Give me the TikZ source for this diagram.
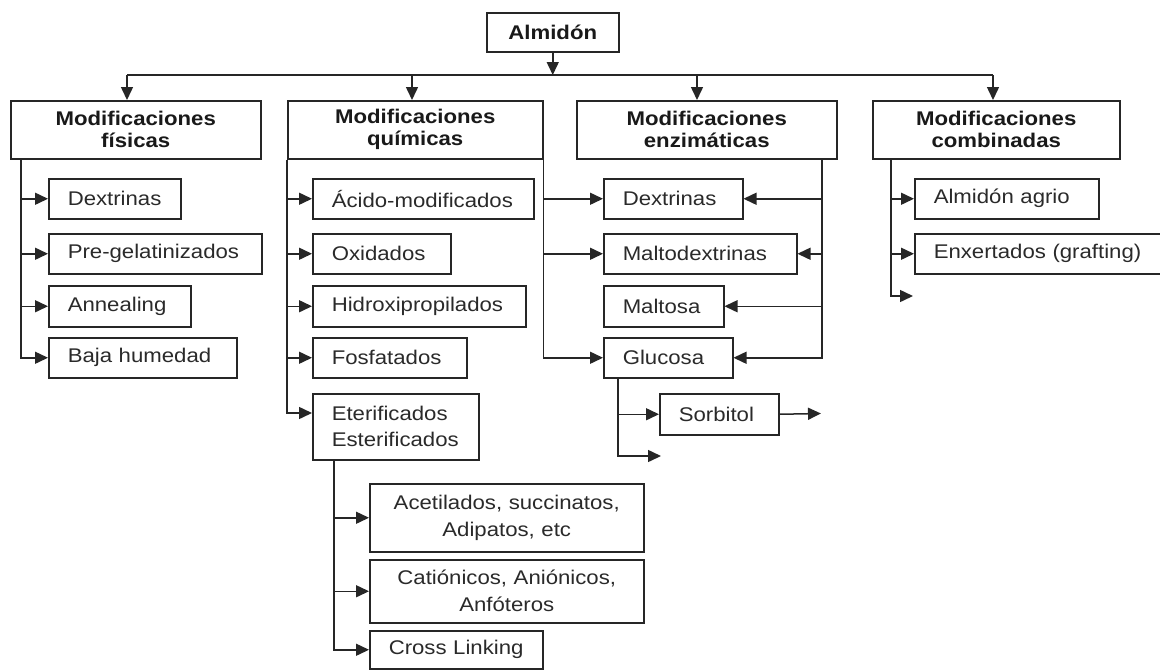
\documentclass[tikz,border=0pt]{standalone}
\usepackage{fontspec}
\setmainfont{Liberation Sans}[FakeStretch=1.12]
\usetikzlibrary{arrows.meta}
\definecolor{ln}{HTML}{262626}
\definecolor{tx}{HTML}{2A2A2A}
\begin{document}
\begin{tikzpicture}[x=1pt,y=-1pt,
  every node/.style={font=\fontsize{19.8}{22}\selectfont, text=tx},
  box/.style={draw=ln, line width=1.5pt, anchor=north west, inner sep=0pt, fill=white},
  head/.style={box, minimum height=58pt, align=center, font=\fontsize{19.8}{22}\selectfont\bfseries, text=black!90},
  leaf/.style={box, inner xsep=19pt, minimum height=40pt, text width=#1, align=left},
  twol/.style={box, inner xsep=19pt, text width=#1, align=center, font=\fontsize{19.8}{27}\selectfont},
  con/.style={draw=ln, line width=1.5pt},
  arr/.style={con, -{Triangle[length=13pt,width=12pt]}},
]
\useasboundingbox (0,0) rectangle (1160,670);
\clip (0,0) rectangle (1160,670);

% top
\node[box, minimum width=132pt, minimum height=39pt, font=\fontsize{19.8}{22}\selectfont\bfseries, text=black!90] (alm) at (486,12) {Almidón};

% headings
\node[head, minimum width=250pt] (fis) at (10,100) {Modificaciones\\físicas};
\node[head, minimum width=255pt] (qui) at (287,100) {Modificaciones\\químicas};
\node[head, minimum width=260pt] (enz) at (576,100) {Modificaciones\\enzimáticas};
\node[head, minimum width=247pt] (com) at (872,100) {Modificaciones\\combinadas};

% fisicas
\node[leaf=94pt] (f1) at (48,178) {Dextrinas};
\node[leaf=175pt] (f2) at (48,233) {Pre-gelatinizados};
\node[leaf=104pt, minimum height=41pt] (f3) at (48,285) {Annealing};
\node[leaf=150pt] (f4) at (48,337) {Baja humedad};

% quimicas
\node[leaf=183pt] (q1) at (312,178) {Ácido-modificados};
\node[leaf=100pt] (q2) at (312,233) {Oxidados};
\node[leaf=175pt, minimum height=41pt] (q3) at (312,285) {Hidroxipropilados};
\node[leaf=116pt] (q4) at (312,337) {Fosfatados};
\node[leaf=128pt, minimum height=66pt, font=\fontsize{19.8}{26}\selectfont] (q5) at (312,393) {Eterificados\\Esterificados};
\node[twol=236pt, minimum height=68pt] (e1) at (369,483) {Acetilados, succinatos,\\Adipatos, etc};
\node[twol=236pt, minimum height=63pt] (e2) at (369,559) {Catiónicos, Aniónicos,\\Anfóteros};
\node[leaf=135pt, minimum height=38pt] (e3) at (369,630) {Cross Linking};

% enzimaticas
\node[leaf=101pt] (z1) at (603,178) {Dextrinas};
\node[leaf=155pt] (z2) at (603,233) {Maltodextrinas};
\node[leaf=82pt, minimum height=41pt] (z3) at (603,285) {Maltosa};
\node[leaf=91pt] (z4) at (603,337) {Glucosa};
\node[leaf=81pt, minimum height=41pt] (s1) at (659,393) {Sorbitol};

% combinadas
\node[leaf=146pt] (c1) at (914,178) {Almidón agrio};
\node[leaf=212pt] (c2) at (914,233) {Enxertados (grafting)};

% coordinates
\coordinate (b1) at (127,75);
\coordinate (b2) at (412,75);
\coordinate (b3) at (697,75);
\coordinate (b4) at (993,75);
\coordinate (tf) at (21,0);
\coordinate (tz) at (822,0);
\coordinate (te) at (334,0);
\coordinate (tg) at (618,0);
\coordinate (tc) at (891,0);
\coordinate (gend) at (661,456);
\coordinate (send) at (821,413.5);
\coordinate (cend) at (913,296);

% top connectors
\draw[arr] (alm.south) -- (alm.south |- b1);
\draw[con] (b1) -- (b4);
\draw[arr] (b1) -- (b1 |- fis.north);
\draw[arr] (b2) -- (b2 |- qui.north);
\draw[arr] (b3) -- (b3 |- enz.north);
\draw[arr] (b4) -- (b4 |- com.north);

% fisicas
\draw[arr] (tf |- fis.south) |- (f4.west);
\foreach \n in {f1,f2,f3} \draw[arr] (tf |- \n.west) -- (\n.west);

% quimicas
\draw[arr] (qui.south west) |- ([yshift=-20pt]q5.north west);
\foreach \n in {q1,q2,q3,q4} \draw[arr] (qui.south west |- \n.west) -- (\n.west);
\draw[arr] (te |- q5.south) |- (e3.west);
\foreach \n in {e1,e2} \draw[arr] (te |- \n.west) -- (\n.west);

% quimicas -> enzimaticas products
\draw[arr] (qui.south east) |- (z4.west);
\foreach \n in {z1,z2} \draw[arr] (qui.south east |- \n.west) -- (\n.west);

% enzimaticas
\draw[arr] (tz |- enz.south) |- (z4.east);
\foreach \n in {z1,z2,z3} \draw[arr] (tz |- \n.east) -- (\n.east);

% glucosa
\draw[arr] (tg |- z4.south) |- (gend);
\draw[arr] (tg |- s1.west) -- (s1.west);
\draw[arr] (s1.east) -- (send);

% combinadas
\draw[arr] (tc |- com.south) |- (cend);
\foreach \n in {c1,c2} \draw[arr] (tc |- \n.west) -- (\n.west);
\end{tikzpicture}
\end{document}
